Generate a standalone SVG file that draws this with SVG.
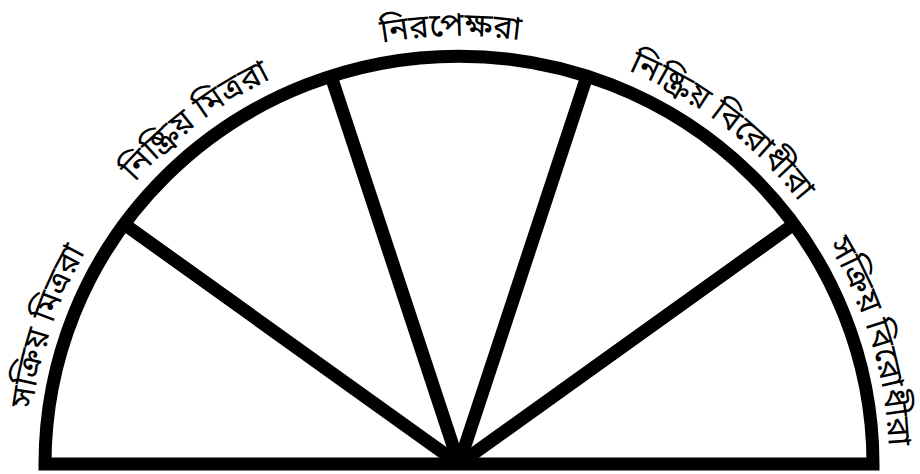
<svg xmlns="http://www.w3.org/2000/svg" width="920" height="474" viewBox="0 0 920 474">
<style>
.ln{fill:none;stroke:#000;stroke-width:13;stroke-linecap:butt;stroke-linejoin:miter}
.lb{font-family:"Noto Sans Bengali","Noto Sans","Lohit Bengali",sans-serif;font-size:33px;fill:#000}
</style>
<defs>
<path id="tp" d="M 29 464 A 430 428 0 0 1 889 464"/>
</defs>
<rect width="920" height="474" fill="#fff"/>
<g id="frame">
<path class="ln" d="M 45 464 A 414 408 0 0 1 873 464 Z"/>
</g>
<g id="connectors">
<line class="ln" x1="459" y1="464" x2="124" y2="224"/>
<line class="ln" x1="459" y1="464" x2="331" y2="76"/>
<line class="ln" x1="459" y1="464" x2="587" y2="76"/>
<line class="ln" x1="459" y1="464" x2="794" y2="224"/>
</g>
<g id="n1"><text class="lb" text-anchor="middle"><textPath href="#tp" startOffset="10.3%">সক্রিয় মিত্ররা</textPath></text></g>
<g id="n2"><text class="lb" text-anchor="middle"><textPath href="#tp" startOffset="29.2%">নিষ্ক্রিয় মিত্ররা</textPath></text></g>
<g id="n3"><text class="lb" text-anchor="middle"><textPath href="#tp" startOffset="49.4%">নিরপেক্ষরা</textPath></text></g>
<g id="n4"><text class="lb" text-anchor="middle"><textPath href="#tp" startOffset="71%">নিষ্ক্রিয় বিরোধীরা</textPath></text></g>
<g id="n5"><text class="lb" text-anchor="middle"><textPath href="#tp" startOffset="90.8%">সক্রিয় বিরোধীরা</textPath></text></g>
</svg>
